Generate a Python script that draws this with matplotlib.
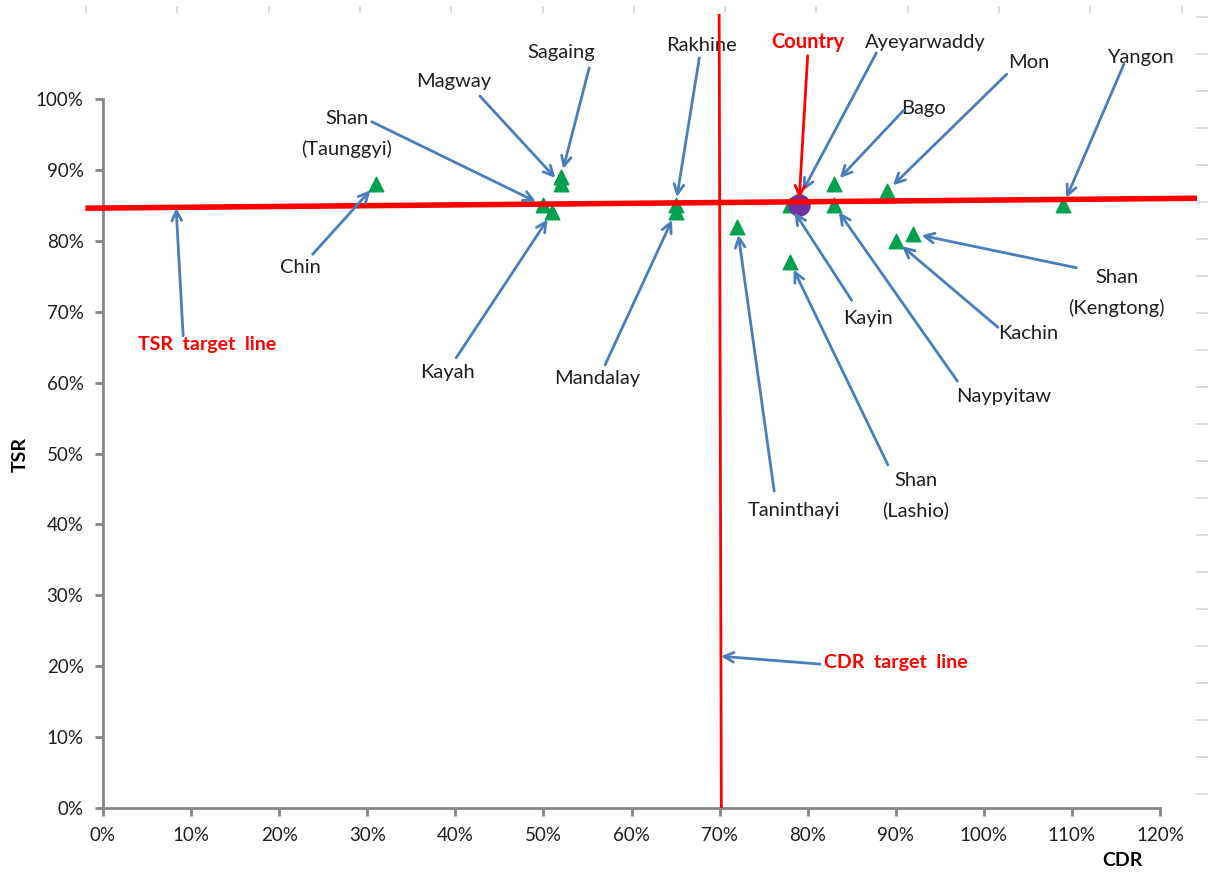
import matplotlib
matplotlib.use("Agg")
import matplotlib.pyplot as plt
from matplotlib.lines import Line2D
from matplotlib.ticker import FuncFormatter

plt.rcParams['font.family'] = ['Lato', 'DejaVu Sans']

# Case detection rate (CDR) and treatment success rate (TSR) by state/region
regions = ["Chin", "Shan (Taunggyi)", "Kayah", "Magway", "Sagaing", "Rakhine",
           "Mandalay", "Taninthayi", "Kayin", "Ayeyarwaddy", "Shan (Lashio)",
           "Bago", "Naypyitaw", "Mon", "Kachin", "Shan (Kengtong)", "Yangon"]
cdr = [0.31, 0.50, 0.51, 0.52, 0.52, 0.65, 0.65, 0.72, 0.78, 0.79, 0.78,
       0.83, 0.83, 0.89, 0.90, 0.92, 1.09]
tsr = [0.88, 0.85, 0.84, 0.88, 0.89, 0.85, 0.84, 0.82, 0.85, 0.86, 0.77,
       0.88, 0.85, 0.87, 0.80, 0.81, 0.85]

country_cdr = 0.79
country_tsr = 0.85

# Hand-drawn target lines (start/end in data units)
tsr_line_x = [-0.02, 1.242]
tsr_line_y = [0.846, 0.860]
cdr_line_x = [0.702, 0.6995]
cdr_line_y = [0.0, 1.12]

x_ticks = [i / 10 for i in range(0, 13)]
y_ticks = [i / 10 for i in range(0, 11)]

# Callout layout: label text, label centre, arrow tail
callouts = {
    "Chin":            ("Chin",              (0.224, 0.762), (0.238, 0.781)),
    "Shan (Taunggyi)": ("Shan\n(Taunggyi)",  (0.277, 0.951), (0.305, 0.968)),
    "Kayah":           ("Kayah",             (0.391, 0.614), (0.401, 0.635)),
    "Magway":          ("Magway",            (0.398, 1.024), (0.428, 1.004)),
    "Sagaing":         ("Sagaing",           (0.520, 1.066), (0.552, 1.044)),
    "Rakhine":         ("Rakhine",           (0.680, 1.075), (0.677, 1.058)),
    "Mandalay":        ("Mandalay",          (0.561, 0.606), (0.570, 0.625)),
    "Taninthayi":      ("Taninthayi",        (0.785, 0.420), (0.762, 0.447)),
    "Kayin":           ("Kayin",             (0.869, 0.691), (0.850, 0.716)),
    "Ayeyarwaddy":     ("Ayeyarwaddy",       (0.933, 1.079), (0.878, 1.065)),
    "Shan (Lashio)":   ("Shan\n(Lashio)",    (0.923, 0.441), (0.891, 0.484)),
    "Bago":            ("Bago",              (0.932, 0.987), (0.909, 0.984)),
    "Naypyitaw":       ("Naypyitaw",         (1.023, 0.580), (0.970, 0.602)),
    "Mon":             ("Mon",               (1.051, 1.052), (1.026, 1.035)),
    "Kachin":          ("Kachin",            (1.050, 0.669), (1.016, 0.678)),
    "Shan (Kengtong)": ("Shan\n(Kengtong)",  (1.151, 0.726), (1.105, 0.762)),
    "Yangon":          ("Yangon",            (1.178, 1.059), (1.159, 1.049)),
}

ARROW = "#4A7EBB"
RED = "#FF0000"
GREEN = "#00A04F"
PURPLE = "#7030A0"
AXIS = "#868686"
TEXT = "#1F1F1F"

fig = plt.figure(figsize=(12.08, 8.75), dpi=100)
ax = fig.add_axes([103 / 1208, 67 / 875, 1057 / 1208, 709 / 875])

ax.set_xlim(0, 1.2)
ax.set_ylim(0, 1.0)

for s in ("top", "right"):
    ax.spines[s].set_visible(False)
for s in ("left", "bottom"):
    ax.spines[s].set_color(AXIS)
    ax.spines[s].set_linewidth(2)

ax.set_xticks(x_ticks)
ax.set_yticks(y_ticks)
pct = FuncFormatter(lambda v, _: f"{v * 100:.0f}%")
ax.xaxis.set_major_formatter(pct)
ax.yaxis.set_major_formatter(pct)
ax.tick_params(direction="out", length=6, width=2, color=AXIS,
               labelsize=13.5, labelcolor=TEXT, pad=8)

# Points
ax.scatter(cdr, tsr, marker="^", s=110, color=GREEN, zorder=3, clip_on=False)
ax.scatter([country_cdr], [country_tsr], marker="o", s=230, color=PURPLE,
           zorder=3, clip_on=False)

# Target lines
ax.add_line(Line2D(tsr_line_x, tsr_line_y, color=RED, lw=4, zorder=4,
                   clip_on=False, solid_capstyle="butt"))
ax.add_line(Line2D(cdr_line_x, cdr_line_y, color=RED, lw=2, zorder=4,
                   clip_on=False, solid_capstyle="butt"))

arrow_kw = dict(arrowstyle="->,head_length=0.7,head_width=0.35", color=ARROW,
                lw=2, shrinkA=0, shrinkB=6)

for name, x, y in zip(regions, cdr, tsr):
    label, (lx, ly), tail = callouts[name]
    ax.annotate("", xy=(x, y), xytext=tail, arrowprops=arrow_kw,
                annotation_clip=False, zorder=5)
    ax.text(lx, ly, label, ha="center", va="center", fontsize=14.5,
            color=TEXT, linespacing=1.85, clip_on=False)

# Country callout
ax.annotate("", xy=(country_cdr, country_tsr), xytext=(0.800, 1.061),
            arrowprops=dict(arrow_kw, color=RED, shrinkB=5),
            annotation_clip=False, zorder=5)
ax.text(0.800, 1.080, "Country", ha="center", va="center", fontsize=14.5,
        color=RED, fontweight="bold", clip_on=False)

# Target line callouts
ax.annotate("", xy=(0.083, 0.8465), xytext=(0.091, 0.666),
            arrowprops=dict(arrow_kw, shrinkB=0), annotation_clip=False, zorder=5)
ax.text(0.118, 0.654, "TSR  target  line", ha="center", va="center",
        fontsize=14, color=RED, fontweight="bold")
ax.annotate("", xy=(0.7015, 0.214), xytext=(0.814, 0.203),
            arrowprops=dict(arrow_kw, shrinkB=0), annotation_clip=False, zorder=5)
ax.text(0.900, 0.205, "CDR  target  line", ha="center", va="center",
        fontsize=14, color=RED, fontweight="bold")

# Axis titles
fig.text(20 / 1208, 1 - 455 / 875, "TSR", rotation=90, ha="center",
         va="center", fontsize=14, fontweight="bold", color="black")
fig.text(1122 / 1208, 1 - 861 / 875, "CDR", ha="center", va="center",
         fontsize=14, fontweight="bold", color="black")

# Faint worksheet gridline stubs around the chart area
GRID = "#CDD5E2"
for px in range(13):
    xx = (86 + px * 91.3) / 1208
    fig.add_artist(Line2D([xx, xx], [1 - 7 / 875, 1 - 12 / 875], color=GRID,
                          lw=1.2, transform=fig.transFigure))
for k in range(22):
    yy = 1 - (17 + k * 37) / 875
    fig.add_artist(Line2D([1197 / 1208, 1.0], [yy, yy], color=GRID, lw=1.2,
                          transform=fig.transFigure))

fig.savefig("out.png", dpi=100)
